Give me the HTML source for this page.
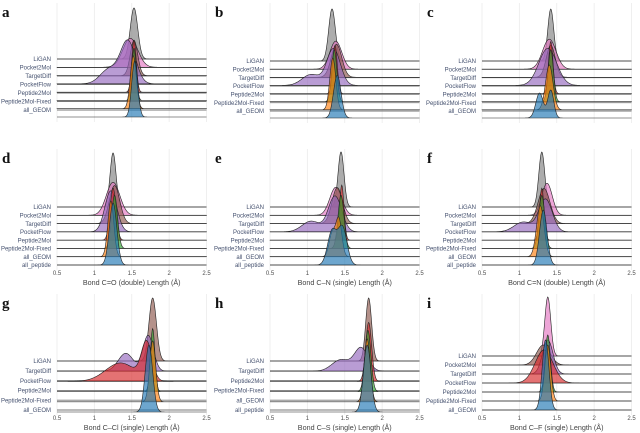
<!DOCTYPE html>
<html><head><meta charset="utf-8"><style>
html,body{margin:0;padding:0;background:#fff;}
svg{display:block;font-family:"Liberation Sans",sans-serif;}
</style></head><body>
<svg id="chart" width="640" height="433" viewBox="0 0 640 433" xmlns="http://www.w3.org/2000/svg"></svg>
<script>
// ---- data ----
const aLabels=["LiGAN","Pocket2Mol","TargetDiff","PocketFlow","Peptide2Mol","Peptide2Mol-Fixed","all_GEOM"];
const aColors=["grey","pink","brown","purple","red","green","orange","blue"];
const aMeans=[1.53,1.48,1.53,1.45,1.53,1.53,1.52,1.54];
const aSds=[0.05,0.1,0.05,0.1,0.03,0.03,0.04,0.04];
const aPeaks=[51,29,35,44,52,52,53,56];
const aMeans2=[0,0,0,1.2,0,0,0,0];const aSds2=[0.1,0.1,0.1,0.12,0.1,0.1,0.1,0.1];const aW2=[0,0,0,0.35,0,0,0,0];

const bLabels=aLabels;
const bColors=aColors;
const bMeans=[1.33,1.38,1.39,1.35,1.37,1.36,1.34,1.40];
const bSds=[0.045,0.08,0.07,0.09,0.03,0.035,0.04,0.05];
const bPeaks=[52,28,33,37,48,52,52,43];
const bMeans2=[0,0,0,1.05,0,0,0,0];const bSds2=[0.1,0.1,0.1,0.12,0.1,0.1,0.1,0.1];const bW2=[0,0,0,0.3,0,0,0,0];

const cLabels=aLabels;
const cColors=aColors;
const cMeans=[1.42,1.40,1.42,1.38,1.42,1.42,1.40,1.42];
const cSds=[0.04,0.09,0.06,0.12,0.03,0.035,0.05,0.04];
const cPeaks=[52,30,32,37,52,52,45,28];
const cMeans2=[0,0,0,0,0,0,0,1.27];const cSds2=[0.1,0.1,0.1,0.1,0.1,0.1,0.1,0.05];const cW2=[0,0,0,0,0,0,0,0.9];

const dLabels=["LiGAN","Pocket2Mol","TargetDiff","PocketFlow","Peptide2Mol","Peptide2Mol-Fixed","all_GEOM","all_peptide"];
const dColors=aColors;
const dMeans=[1.25,1.25,1.27,1.22,1.25,1.27,1.22,1.25];
const dSds=[0.04,0.09,0.07,0.08,0.04,0.04,0.04,0.05];
const dPeaks=[54,33,38,41,52,53,56,62];
const dMeans2=[0,0,0,0,0,0,0,0];const dSds2=[0.1,0.1,0.1,0.1,0.1,0.1,0.1,0.1];const dW2=[0,0,0,0,0,0,0,0];

const eLabels=dLabels;
const eColors=aColors;
const eMeans=[1.45,1.38,1.40,1.37,1.46,1.45,1.42,1.47];
const eSds=[0.04,0.08,0.07,0.09,0.03,0.04,0.04,0.06];
const ePeaks=[55,28,36,36,55,53,40,40];
const eMeans2=[0,0,0,1.05,0,0,1.33,1.33];const eSds2=[0.1,0.1,0.1,0.12,0.1,0.1,0.04,0.06];const eW2=[0,0,0,0.3,0,0,0.6,0.9];

const fLabels=dLabels;
const fColors=aColors;
const fMeans=[1.30,1.37,1.33,1.35,1.30,1.30,1.28,1.32];
const fSds=[0.04,0.07,0.08,0.09,0.03,0.04,0.05,0.05];
const fPeaks=[55,32,35,33,52,53,51,55];
const fMeans2=[0,0,0,1.05,0,0,0,0];const fSds2=[0.1,0.1,0.1,0.12,0.1,0.1,0.1,0.1];const fW2=[0,0,0,0.3,0,0,0,0];

const gLabels=["LiGAN","TargetDiff","PocketFlow","Peptide2Mol","Peptide2Mol-Fixed","all_GEOM"];
const gColors=["brown","purple","red","green","orange","blue"];
const gMeans=[1.78,1.72,1.70,1.78,1.78,1.73];
const gSds=[0.05,0.07,0.07,0.03,0.04,0.05];
const gPeaks=[63,36,41,63,61,67];
const gMeans2=[0,1.42,1.35,0,0,0];const gSds2=[0.1,0.1,0.2,0.1,0.1,0.1];const gW2=[0,0.5,0.5,0,0,0];

const hLabels=["LiGAN","TargetDiff","Peptide2Mol","Peptide2Mol-Fixed","all_GEOM","all_peptide"];
const hColors=gColors;
const hMeans=[1.82,1.72,1.82,1.81,1.80,1.80];
const hSds=[0.04,0.09,0.04,0.04,0.04,0.05];
const hPeaks=[63,24,59,61,63,67];
const hMeans2=[0,1.45,0,0,0,0];const hSds2=[0.1,0.12,0.1,0.1,0.1,0.1];const hW2=[0,0.5,0,0,0,0];

const iLabels=["LiGAN","Pocket2Mol","TargetDiff","PocketFlow","Peptide2Mol","Peptide2Mol-Fixed","all_GEOM"];
const iColors=["pink","brown","purple","red","green","orange","blue"];
const iMeans=[1.38,1.32,1.38,1.33,1.38,1.38,1.35];
const iSds=[0.04,0.09,0.07,0.12,0.035,0.04,0.045];
const iPeaks=[59,20,34,33,57,56,70];
const iMeans2=[0,0,0,0,0,0,0];const iSds2=[0.1,0.1,0.1,0.1,0.1,0.1,0.1];const iW2=[0,0,0,0,0,0,0];

const xTicks=[0.5,1,1.5,2,2.5];
const xTickLabels=["0.5","1","1.5","2","2.5"];
const titles=["","","","Bond C=O (double) Length (Å)","Bond C–N (single) Length (Å)","Bond C=N (double) Length (Å)","Bond C–Cl (single) Length (Å)","Bond C–S (single) Length (Å)","Bond C–F (single) Length (Å)"];

const palette={grey:"#808080",pink:"#e377c2",brown:"#8c564b",purple:"#9467bd",red:"#d62728",green:"#2ca02c",orange:"#ff7f0e",blue:"#1f77b4"};
const NS="http://www.w3.org/2000/svg";
const svg=document.getElementById('chart');
function mk(tag,attrs,parent){const e=document.createElementNS(NS,tag);for(const k in attrs)e.setAttribute(k,attrs[k]);(parent||svg).appendChild(e);return e;}

const panels=[
 {id:"a",x0:57,labels:aLabels,colors:aColors,m:aMeans,s:aSds,p:aPeaks,m2:aMeans2,s2:aSds2,w2:aW2,labY:[59,110],rb:[59,117],letterY:17,ticks:false},
 {id:"b",x0:270,labels:bLabels,colors:bColors,m:bMeans,s:bSds,p:bPeaks,m2:bMeans2,s2:bSds2,w2:bW2,labY:[61,111],rb:[61,118],letterY:17,ticks:false},
 {id:"c",x0:482,labels:cLabels,colors:cColors,m:cMeans,s:cSds,p:cPeaks,m2:cMeans2,s2:cSds2,w2:cW2,labY:[61,111],rb:[61,118],letterY:17,ticks:false},
 {id:"d",x0:57,labels:dLabels,colors:dColors,m:dMeans,s:dSds,p:dPeaks,m2:dMeans2,s2:dSds2,w2:dW2,labY:[207,265],rb:[207,265],letterY:163,ticks:true},
 {id:"e",x0:270,labels:eLabels,colors:eColors,m:eMeans,s:eSds,p:ePeaks,m2:eMeans2,s2:eSds2,w2:eW2,labY:[207,265],rb:[207,265],letterY:163,ticks:true},
 {id:"f",x0:482,labels:fLabels,colors:fColors,m:fMeans,s:fSds,p:fPeaks,m2:fMeans2,s2:fSds2,w2:fW2,labY:[207,265],rb:[207,265],letterY:163,ticks:true},
 {id:"g",x0:57,labels:gLabels,colors:gColors,m:gMeans,s:gSds,p:gPeaks,m2:gMeans2,s2:gSds2,w2:gW2,labY:[361,410],rb:[361,412],letterY:308,ticks:true},
 {id:"h",x0:270,labels:hLabels,colors:hColors,m:hMeans,s:hSds,p:hPeaks,m2:hMeans2,s2:hSds2,w2:hW2,labY:[361,410],rb:[361,412],letterY:308,ticks:true},
 {id:"i",x0:482,labels:iLabels,colors:iColors,m:iMeans,s:iSds,p:iPeaks,m2:iMeans2,s2:iSds2,w2:iW2,labY:[356,410],rb:[356,410],letterY:308,ticks:true}
];
const PX=74.75;
panels.forEach((P,pi)=>{
  const g=mk('g',{});
  
  
  const xs=v=>P.x0+(v-0.5)*PX;
  const top=P.letterY-14, bottom=P.ticks?P.labY[1]+5:P.rb[1]+5;
  xTicks.forEach((t,k)=>{
    const l=mk('line',{x1:xs(t),x2:xs(t),y1:top,y2:bottom,stroke:"#ebebeb","stroke-width":0.8},g);
    
    
    if(P.ticks){
      const tt=mk('text',{x:xs(t),y:P.labY[1]+10,"font-size":6,fill:"#4d4d4d","text-anchor":"middle"},g);
      tt.textContent=xTickLabels[k];
      
      
    }
  });
  const n=P.labels.length;
  P.labels.forEach((lab,k)=>{
    const y=P.labY[0]+(P.labY[1]-P.labY[0])*k/(n-1);
    const l=mk('line',{x1:xs(0.5),x2:xs(2.5),y1:y,y2:y,stroke:"#777","stroke-width":0.9},g);
    
    
    const t=mk('text',{x:P.x0-6,y:y+2.2,"font-size":6,fill:"#44506e","text-anchor":"end"},g);
    t.textContent=lab;
    
    
  });
  const m=P.colors.length;
  P.colors.forEach((c,k)=>{
    const base=P.rb[0]+(P.rb[1]-P.rb[0])*k/(m-1);
    const vals=[];let mx=0;
    for(let j=0;j<=300;j++){const x=0.5+2*j/300;
      let d=Math.exp(-0.5*Math.pow((x-P.m[k])/P.s[k],2));
      if(P.w2[k]>0)d+=P.w2[k]*Math.exp(-0.5*Math.pow((x-P.m2[k])/P.s2[k],2));
      vals.push([x,d]);if(d>mx)mx=d;}
    let dstr='M'+xs(0.5)+','+base;
    vals.forEach(v=>{dstr+=' L'+xs(v[0]).toFixed(2)+','+(base-v[1]/mx*P.p[k]).toFixed(2);});
    dstr+=' L'+xs(2.5)+','+base+' Z';
    const path=mk('path',{d:dstr,fill:palette[c],"fill-opacity":0.65,stroke:"#222","stroke-width":0.6},g);
    
    
  });
  const L=mk('text',{x:P.x0-55,y:P.letterY,"font-size":15,"font-weight":"bold","font-family":"Liberation Serif, serif",fill:"#111"},g);
  L.textContent=P.id;
  
  
  if(titles[pi]){
    const T=mk('text',{x:xs(1.5),y:P.labY[1]+20,"font-size":7.2,fill:"#444","text-anchor":"middle"},g);
    T.textContent=titles[pi];
    
    
  }
});
</script>
</body></html>
